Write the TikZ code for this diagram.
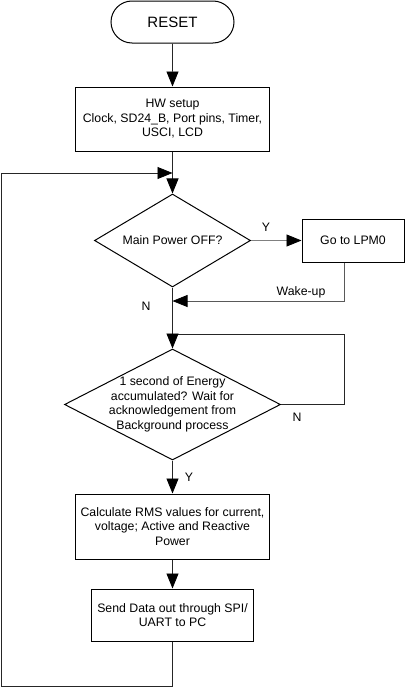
\documentclass[tikz,border=0pt]{standalone}
\usepackage{fontspec}
\setmainfont{Liberation Sans}
\usetikzlibrary{arrows.meta,shapes.geometric,shapes.misc}
\begin{document}
\begin{tikzpicture}[x=1pt,y=-1pt,
  every node/.style={font=\fontsize{12.3}{14.5}\selectfont},
  boxst/.style={draw=black, line width=1pt, rectangle, inner sep=0pt, align=center},
  termst/.style={draw=black, line width=1pt, rounded rectangle, inner sep=0pt},
  diast/.style={draw=black, line width=1pt, diamond, inner sep=0pt},
  conn/.style={draw=black!85, line width=0.8pt},
  arr/.style={conn, -{Triangle[length=15pt,width=12pt,color=black]}},
  lbl/.style={inner sep=0pt}
]
\useasboundingbox (0,0) rectangle (405,688);

\node[termst, minimum width=123pt, minimum height=42pt, font=\fontsize{15}{18}\selectfont] (reset) at (172.5,22) {RESET};
\node[boxst, minimum width=194pt, minimum height=64pt] (hw) at (172.5,119) {HW setup\\Clock, SD24\_B, Port pins, Timer,\\USCI, LCD};
\node[diast, minimum width=156pt, minimum height=93pt,
  label={[lbl]center:Main Power OFF?}] (d1) at (172.5,240.5) {};
\node[boxst, minimum width=102pt, minimum height=43pt] (lpm) at (353,240.5) {Go to LPM0};
\node[diast, minimum width=216pt, minimum height=111pt,
  label={[lbl,align=center]center:1 second of Energy\\accumulated? Wait for\\acknowledgement from\\Background process}] (d2) at (172.5,404.5) {};
\node[boxst, minimum width=194pt, minimum height=65pt] (calc) at (172.5,526.5) {Calculate RMS values for current,\\voltage; Active and Reactive\\Power};
\node[boxst, minimum width=162pt, minimum height=52pt] (send) at (172.5,615) {Send Data out through SPI/\\UART to PC};

\coordinate (j1) at (172.5,173);
\coordinate (bl) at (1,686.5);
\coordinate (br) at (172.5,686.5);
\coordinate (wk) at (344,301);
\coordinate (j2) at (172.5,301);
\coordinate (lr) at (344,404.5);
\coordinate (lt) at (344,334);
\coordinate (j3) at (172.5,334);

\draw[arr] (reset) -- (hw);
\draw[arr] (hw) -- (d1);
\draw[arr] (send.south) -- (br) -- (bl) -- (bl |- j1) -- (j1);
\draw[arr, draw=black!50] (d1.east) -- (lpm.west);
\draw[arr, draw=black!65] (lpm.south -| wk) -- (wk) -- (j2);
\draw[conn] (d2.east) -- (lr) -- (lt) -- (j3);
\draw[arr] (d1.south) -- (d2.north);
\draw[arr] (d2.south) -- (calc.north);
\draw[arr] (calc) -- (send);

\node[lbl] (ly1) at (266,227) {Y};
\node[lbl] (lwk) at (301,292.5) {Wake-up};
\node[lbl] (ln1) at (146,306) {N};
\node[lbl] (ln2) at (297,417) {N};
\node[lbl] (ly2) at (189,477) {Y};
\end{tikzpicture}
\end{document}
